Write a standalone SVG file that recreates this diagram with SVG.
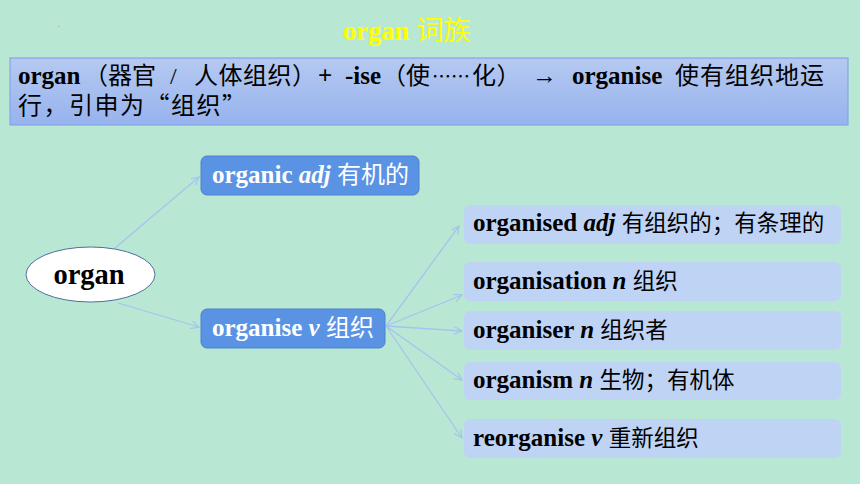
<svg xmlns="http://www.w3.org/2000/svg" width="860" height="484" viewBox="0 0 860 484">
<defs>
<linearGradient id="hdr" x1="0" y1="0" x2="0" y2="1">
<stop offset="0" stop-color="#B5C9F1"/>
<stop offset="1" stop-color="#97B3EE"/>
</linearGradient>
<marker id="arr" markerWidth="10" markerHeight="10" refX="8" refY="4" orient="auto" markerUnits="userSpaceOnUse">
<path d="M0,0 L8,4 L0,8" fill="none" stroke="#A6C3EE" stroke-width="1.2"/>
</marker>
<style>
.en{font-family:"Liberation Serif","Noto Sans CJK SC",serif;font-weight:bold;}
.zh{font-family:"Noto Sans CJK SC","Liberation Sans",sans-serif;font-weight:normal;}
.hz{font-family:"Liberation Serif","Noto Sans CJK SC",sans-serif;font-weight:normal;}
.it{font-style:italic;}
.dark{fill:#5B93E4;stroke:#4D80CC;stroke-width:1;}
.light{fill:#BFD3F5;stroke:none;}
.conn line{stroke:#A6C3EE;stroke-width:1.3;marker-end:url(#arr);}
.w{fill:#FFFFFF;}
.b{fill:#000000;}
</style>
</defs>
<rect x="0" y="0" width="860" height="484" fill="#B8E8D4"/>
<text x="58" y="27" font-family="Liberation Sans, sans-serif" font-size="6" fill="#333">.</text>
<text x="343" y="40" class="en" font-size="26.5" fill="#FFFF00">organ <tspan class="zh" font-weight="bold" font-size="27.5">词族</tspan></text>

<g id="header">
<rect x="10" y="58" width="838" height="67" fill="url(#hdr)" stroke="#86A4E6" stroke-width="1.2"/>
<text y="84" font-size="25" class="en b"><tspan x="18">organ</tspan><tspan x="84" class="hz" font-size="24">（器官</tspan><tspan x="170" class="hz" font-size="24">/</tspan><tspan x="194" class="hz" font-size="24" letter-spacing="0.5">人体组织）</tspan><tspan x="318">+</tspan><tspan x="345">-ise</tspan><tspan x="382" class="hz" font-size="24">（使</tspan><tspan x="432" class="zh" font-size="19">……</tspan><tspan x="472" class="hz" font-size="24" letter-spacing="0.5">化）</tspan><tspan x="532">→</tspan><tspan x="572">organise</tspan><tspan x="675" class="hz" font-size="24" letter-spacing="1">使有组织地运</tspan></text>
<text x="18" y="114" class="hz b" font-size="24" letter-spacing="1.5">行，引申为<tspan class="zh">“</tspan>组织<tspan class="zh">”</tspan></text>
</g>

<g class="conn">
<line x1="115" y1="248" x2="199" y2="177"/>
<line x1="118" y1="303" x2="199" y2="327"/>
<line x1="386" y1="326" x2="459" y2="226"/>
<line x1="386" y1="326" x2="462" y2="295"/>
<line x1="386" y1="326" x2="462" y2="331"/>
<line x1="386" y1="326" x2="462" y2="380"/>
<line x1="386" y1="326" x2="462" y2="438"/>
</g>

<g id="organ">
<ellipse cx="90.5" cy="274.5" rx="64.5" ry="27.5" fill="#FFFFFF" stroke="#4E6E9E" stroke-width="1"/>
<text x="89" y="284" text-anchor="middle" class="en b" font-size="28.5">organ</text>
</g>

<g id="organic">
<rect x="201" y="156" width="218" height="39" rx="6" class="dark"/>
<text x="212" y="183" class="en w" font-size="25">organic <tspan class="it">adj</tspan> <tspan class="zh" font-size="24">有机的</tspan></text>
</g>

<g id="organise">
<rect x="201" y="309" width="184" height="39" rx="6" class="dark"/>
<text x="212" y="336" class="en w" font-size="25">organise <tspan class="it">v</tspan> <tspan class="zh" font-size="24">组织</tspan></text>
</g>

<g id="organised">
<rect x="464" y="205" width="377" height="39" rx="6" class="light"/>
<text x="473" y="231" class="en b" font-size="25">organised <tspan class="it">adj</tspan> <tspan class="zh" font-size="22.5">有组织的；有条理的</tspan></text>
</g>

<g id="organisation">
<rect x="464" y="262" width="377" height="39" rx="6" class="light"/>
<text x="473" y="289" class="en b" font-size="25">organisation <tspan class="it">n</tspan> <tspan class="zh" font-size="22.5">组织</tspan></text>
</g>

<g id="organiser">
<rect x="464" y="311" width="377" height="39" rx="6" class="light"/>
<text x="473" y="338" class="en b" font-size="25">organiser <tspan class="it">n</tspan> <tspan class="zh" font-size="22.5">组织者</tspan></text>
</g>

<g id="organism">
<rect x="464" y="362" width="377" height="38" rx="6" class="light"/>
<text x="473" y="388" class="en b" font-size="25">organism <tspan class="it">n</tspan> <tspan class="zh" font-size="22.5">生物；有机体</tspan></text>
</g>

<g id="reorganise">
<rect x="464" y="419" width="377" height="39" rx="6" class="light"/>
<text x="473" y="446" class="en b" font-size="25">reorganise <tspan class="it">v</tspan> <tspan class="zh" font-size="22.5">重新组织</tspan></text>
</g>
</svg>
